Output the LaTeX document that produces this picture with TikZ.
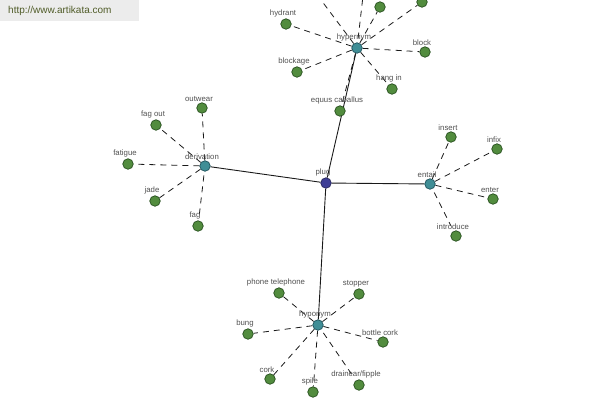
\documentclass[tikz,border=0pt]{standalone}
\usepackage{fontspec}
\setmainfont{Liberation Sans}
\usepackage{tikz}
\usetikzlibrary{positioning, backgrounds}
\definecolor{LeafGreen} {RGB}{82, 140, 62}
\definecolor{LeafEdge}  {RGB}{38,  78, 30}
\definecolor{HubTeal}   {RGB}{64, 142, 150}
\definecolor{HubEdge}   {RGB}{30,  80, 90}
\definecolor{RootBlue}  {RGB}{62,  62, 150}
\definecolor{LabelGrey} {RGB}{80,  80, 80}
\definecolor{MarkGrey}  {RGB}{236,236,236}
\definecolor{MarkText}  {RGB}{80,  92, 40}

\begin{document}
\begin{tikzpicture}[
  x=1pt, y=-1pt,
  leaf/.style={circle, draw=LeafEdge, fill=LeafGreen, line width=0.7pt,
               minimum size=10.5pt, inner sep=0pt},
  hub/.style={leaf, draw=HubEdge, fill=HubTeal},
  root/.style={leaf, draw=RootBlue!60!black, fill=RootBlue},
  lbl/.style={font=\fontsize{7.8}{8}\selectfont, text=LabelGrey,
              inner sep=1pt, xshift=-3pt},
  every label/.style={lbl},
  label distance=0pt,
  rel/.style={draw=black!90, line width=0.9pt},
  spoke/.style={draw=black!90, line width=0.8pt, dash pattern=on 6pt off 5pt,
                shorten <=4pt, shorten >=6pt}
]
  \useasboundingbox (0,0) rectangle (600,400);
  \clip (0,0) rectangle (600,400);

  % centre and its relations
  \node[root, label=above:plug] (plug) at (326,183) {};
  \node[hub, label=above:hypernym]   (hyper) at (357,48)  {};
  \node[hub, label=above:hyponym]    (hypo)  at (318,325) {};
  \node[hub, label=above:derivation] (deriv) at (205,166) {};
  \node[hub, label=above:entail]     (ent)   at (430,184) {};

  % hypernym
  \node[leaf, label=above:hydrant]          (hydrant)  at (286,24)  {};
  \node[leaf, label=above:blockage]         (blockage) at (297,72)  {};
  \node[leaf, label=above:equus caballus]   (equus)    at (340,111) {};
  \node[leaf, label=above:hang in]          (hangin)   at (392,89)  {};
  \node[leaf, label=above:block]            (block)    at (425,52)  {};
  \node[leaf] (hyptopa) at (380,7) {};
  \node[leaf] (hyptopb) at (422,2) {};
  \coordinate (hypoffa) at (306,-20);
  \coordinate (hypoffb) at (366,-30);

  % derivation
  \node[leaf, label=above:outwear] (outwear) at (202,108) {};
  \node[leaf, label=above:fag out] (fagout)  at (156,125) {};
  \node[leaf, label=above:fatigue] (fatigue) at (128,164) {};
  \node[leaf, label=above:jade]    (jade)    at (155,201) {};
  \node[leaf, label=above:fag]     (fag)     at (198,226) {};

  % entail
  \node[leaf, label=above:insert]    (insert)    at (451,137) {};
  \node[leaf, label=above:infix]     (infix)     at (497,149) {};
  \node[leaf, label=above:enter]     (enter)     at (493,199) {};
  \node[leaf, label=above:introduce] (introduce) at (456,236) {};

  % hyponym
  \node[leaf, label=above:phone telephone] (phone)   at (279,293) {};
  \node[leaf, label=above:stopper]         (stopper) at (359,294) {};
  \node[leaf, label=above:bung]            (bung)    at (248,334) {};
  \node[leaf, label=above:bottle cork]     (bottle)  at (383,342) {};
  \node[leaf, label=above:cork]            (cork)    at (270,379) {};
  \node[leaf, label=above:spile]           (spile)   at (313,392) {};
  \node[leaf, label=above:drainear/fipple] (drain)   at (359,385) {};

  % edges, behind the nodes
  \begin{scope}[on background layer]
    \draw[spoke] (hyper) -- (hydrant) (hyper) -- (blockage) (hyper) -- (equus)
                 (hyper) -- (hangin) (hyper) -- (block) (hyper) -- (hyptopa)
                 (hyper) -- (hyptopb) (hyper) -- (hypoffa) (hyper) -- (hypoffb);
    \draw[spoke] (deriv) -- (outwear) (deriv) -- (fagout) (deriv) -- (fatigue)
                 (deriv) -- (jade) (deriv) -- (fag);
    \draw[spoke] (ent) -- (insert) (ent) -- (infix) (ent) -- (enter)
                 (ent) -- (introduce);
    \draw[spoke] (hypo) -- (phone) (hypo) -- (stopper) (hypo) -- (bung)
                 (hypo) -- (bottle) (hypo) -- (cork) (hypo) -- (spile)
                 (hypo) -- (drain);
    \draw[rel] (plug) -- (hyper) (plug) -- (hypo) (plug) -- (deriv) (plug) -- (ent);
  \end{scope}

  % watermark
  \fill[MarkGrey] (0,0) rectangle (139,21);
  \node[anchor=west, font=\fontsize{10}{11}\selectfont, text=MarkText, inner sep=0pt]
    (site) at (8,11) {http://www.artikata.com};
\end{tikzpicture}
\end{document}
